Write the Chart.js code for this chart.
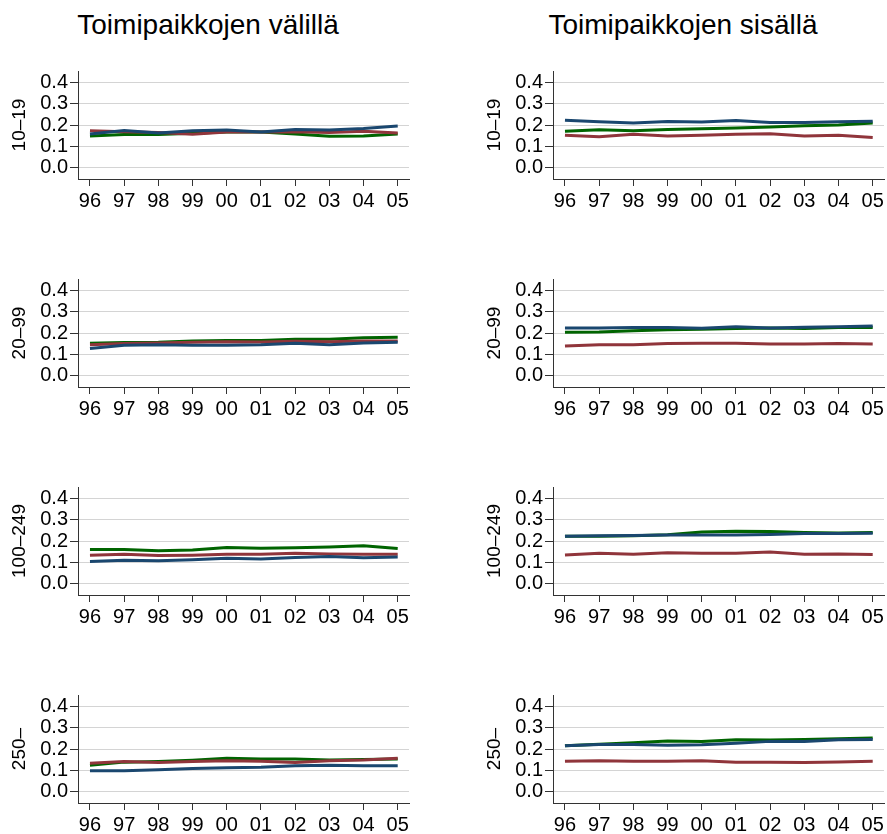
<!DOCTYPE html>
<html>
<head>
<meta charset="utf-8">
<script src="https://cdn.jsdelivr.net/npm/chart.js@4.4.0/dist/chart.umd.min.js"></script>
<style>
  body { margin: 0; background: #fff; width: 887px; height: 834px; position: relative; overflow: hidden;
         font-family: "Liberation Sans", Arial, sans-serif; }
  canvas { position: absolute; }
  .title { position: absolute; top: 11px; font-size: 28px; line-height: 28px; color: #000;
           white-space: nowrap; transform: translateX(-50%); }
</style>
</head>
<body>
<div class="title" style="left:208px">Toimipaikkojen välillä</div>
<div class="title" style="left:683px">Toimipaikkojen sisällä</div>
<script>
const years = ['96', '97', '98', '99', '00', '01', '02', '03', '04', '05'];
const sizeClasses = ['10–19', '20–99', '100–249', '250–'];
const yTicks = [0, 0.1, 0.2, 0.3, 0.4];

// Toimipaikkojen välillä (left column)
const between10Navy   = [0.158, 0.174, 0.162, 0.173, 0.176, 0.167, 0.179, 0.176, 0.183, 0.195];
const between10Maroon = [0.173, 0.168, 0.164, 0.156, 0.167, 0.167, 0.168, 0.165, 0.171, 0.162];
const between10Green  = [0.148, 0.155, 0.155, 0.161, 0.167, 0.167, 0.158, 0.147, 0.148, 0.158];

const between20Navy   = [0.127, 0.142, 0.145, 0.142, 0.142, 0.144, 0.152, 0.145, 0.153, 0.156];
const between20Maroon = [0.145, 0.150, 0.153, 0.156, 0.159, 0.158, 0.161, 0.159, 0.162, 0.162];
const between20Green  = [0.152, 0.155, 0.156, 0.162, 0.164, 0.165, 0.170, 0.171, 0.177, 0.180];

const between100Navy   = [0.103, 0.109, 0.107, 0.112, 0.119, 0.115, 0.122, 0.127, 0.121, 0.124];
const between100Maroon = [0.133, 0.137, 0.131, 0.133, 0.137, 0.137, 0.142, 0.139, 0.137, 0.137];
const between100Green  = [0.160, 0.160, 0.154, 0.158, 0.169, 0.166, 0.168, 0.172, 0.177, 0.165];

const between250Navy   = [0.097, 0.097, 0.102, 0.108, 0.111, 0.114, 0.121, 0.123, 0.121, 0.121];
const between250Maroon = [0.133, 0.141, 0.136, 0.141, 0.145, 0.142, 0.136, 0.144, 0.148, 0.156];
const between250Green  = [0.123, 0.138, 0.141, 0.147, 0.156, 0.153, 0.153, 0.148, 0.150, 0.153];

// Toimipaikkojen sisällä (right column)
const within10Navy   = [0.223, 0.215, 0.209, 0.217, 0.214, 0.221, 0.212, 0.212, 0.215, 0.218];
const within10Maroon = [0.152, 0.145, 0.156, 0.148, 0.152, 0.156, 0.159, 0.148, 0.152, 0.141];
const within10Green  = [0.170, 0.177, 0.173, 0.179, 0.182, 0.186, 0.191, 0.197, 0.200, 0.209];

const within20Navy   = [0.224, 0.224, 0.226, 0.226, 0.223, 0.230, 0.224, 0.227, 0.230, 0.233];
const within20Maroon = [0.139, 0.145, 0.144, 0.150, 0.152, 0.152, 0.148, 0.148, 0.150, 0.148];
const within20Green  = [0.203, 0.205, 0.211, 0.215, 0.218, 0.221, 0.224, 0.221, 0.226, 0.226];

const within100Navy   = [0.223, 0.225, 0.226, 0.228, 0.228, 0.228, 0.231, 0.235, 0.235, 0.237];
const within100Maroon = [0.134, 0.142, 0.137, 0.145, 0.142, 0.142, 0.148, 0.137, 0.139, 0.136];
const within100Green  = [0.223, 0.223, 0.225, 0.229, 0.242, 0.246, 0.245, 0.240, 0.238, 0.240];

const within250Navy   = [0.215, 0.221, 0.221, 0.218, 0.220, 0.227, 0.236, 0.236, 0.244, 0.245];
const within250Maroon = [0.142, 0.145, 0.142, 0.142, 0.144, 0.138, 0.138, 0.136, 0.139, 0.142];
const within250Green  = [0.215, 0.223, 0.229, 0.238, 0.236, 0.244, 0.242, 0.245, 0.248, 0.252];

const navy = '#1a476f', maroon = '#90353b', green = '#006400';
const fontFamily = '"Liberation Sans", Arial, sans-serif';

const panels = [
  [between10Navy, between10Maroon, between10Green, within10Navy, within10Maroon, within10Green],
  [between20Navy, between20Maroon, between20Green, within20Navy, within20Maroon, within20Green],
  [between100Navy, between100Maroon, between100Green, within100Navy, within100Maroon, within100Green],
  [between250Navy, between250Maroon, between250Green, within250Navy, within250Maroon, within250Green]
];

function toPoints(vals) {
  return vals.map((v, i) => ({ x: i, y: v }));
}

function makePanel(col, row, sNavy, sMaroon, sGreen) {
  const canvas = document.createElement('canvas');
  canvas.width = 413;
  canvas.height = 162;
  canvas.style.left = (col === 0 ? 0 : 475) + 'px';
  canvas.style.top = (57 + row * 208) + 'px';
  document.body.appendChild(canvas);

  new Chart(canvas, {
    type: 'line',
    data: {
      datasets: [
        { data: toPoints(sNavy), borderColor: navy },
        { data: toPoints(sMaroon), borderColor: maroon },
        { data: toPoints(sGreen), borderColor: green }
      ]
    },
    options: {
      responsive: false,
      animation: false,
      devicePixelRatio: 1,
      layout: { padding: { top: 10, right: 4, left: 0, bottom: 0 } },
      elements: { line: { borderWidth: 3, tension: 0 }, point: { radius: 0 } },
      plugins: { legend: { display: false }, tooltip: { enabled: false } },
      scales: {
        x: {
          type: 'linear',
          min: -0.35,
          max: 9.33,
          afterBuildTicks: s => { s.ticks = years.map((y, i) => ({ value: i })); },
          afterFit: s => { s.height = 40; },
          ticks: {
            callback: (v, i) => years[i],
            font: { size: 20, family: fontFamily },
            color: '#000',
            padding: 3,
            maxRotation: 0,
            autoSkip: false
          },
          grid: { drawOnChartArea: false, tickLength: 7, tickColor: '#333' },
          border: { color: '#333', width: 1 }
        },
        y: {
          min: -0.055,
          max: 0.455,
          afterBuildTicks: s => { s.ticks = yTicks.map(v => ({ value: v })); },
          afterFit: s => { s.width = 78; },
          ticks: {
            callback: v => v.toFixed(1),
            font: { size: 20, family: fontFamily },
            color: '#000',
            padding: 2
          },
          grid: { color: '#d4d4d4', tickColor: '#333', tickLength: 8 },
          border: { color: '#333', width: 1 },
          title: {
            display: true,
            text: sizeClasses[row],
            font: { size: 19, family: fontFamily },
            color: '#000',
            padding: { top: 8, bottom: 0 }
          }
        }
      }
    }
  });
}

panels.forEach((p, row) => {
  makePanel(0, row, p[0], p[1], p[2]);
  makePanel(1, row, p[3], p[4], p[5]);
});
</script>
</body>
</html>
